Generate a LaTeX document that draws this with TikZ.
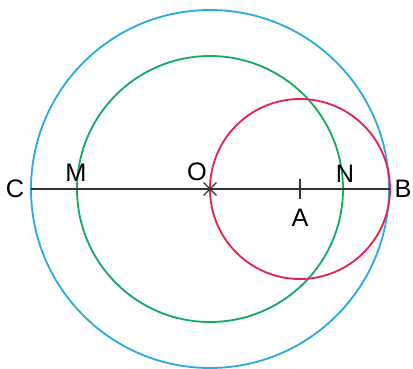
\documentclass[tikz,border=0pt]{standalone}
\usepackage{fontspec}
\setmainfont{Liberation Sans}
\usetikzlibrary{positioning, calc}
\definecolor{cBlue}{RGB}{41,171,226}
\definecolor{cGreen}{RGB}{20,170,95}
\definecolor{cRed}{RGB}{228,36,80}
\tikzset{
    lbl/.style={font=\fontsize{18}{21}\selectfont, inner sep=0pt},
    circ/.style={line width=1.3pt}
}

\begin{document}
\begin{tikzpicture}
    \useasboundingbox (-5.25,-4.475) rectangle (5.075,4.725);

    % Points on the diameter
    \coordinate (O) at (0,0);
    \coordinate (A) at (2.25,0);
    \coordinate (C) at (-4.475,0);
    \coordinate (B) at (4.5,0);
    \coordinate (M) at (-3.325,0);
    \coordinate (N) at (3.325,0);

    % Circles
    \draw[circ, cBlue] (O) circle (4.475);
    \draw[circ, cGreen] (O) circle (3.325);
    \draw[circ, cRed] (A) circle (2.25);

    % Diameter
    \draw[line width=1.1pt, black!80] (C) -- (B);

    % Cross at O and tick at A
    \draw[line width=1pt, black!80] ($(O)+(-0.16,-0.16)$) -- ($(O)+(0.16,0.16)$);
    \draw[line width=1pt, black!80] ($(O)+(-0.16,0.16)$) -- ($(O)+(0.16,-0.16)$);
    \draw[line width=1pt, black!80] ($(A)+(0,-0.25)$) -- ($(A)+(0,0.25)$);

    % Labels
    \node[lbl] (lC) at (-4.875,0) {C};
    \node[lbl] (lM) at (-3.35,0.4) {M};
    \node[lbl] (lO) at (-0.325,0.42) {O};
    \node[lbl] (lN) at (3.375,0.38) {N};
    \node[lbl] (lB) at (4.825,0) {B};
    \node[lbl] (lA) at (2.25,-0.72) {A};
\end{tikzpicture}
\end{document}
